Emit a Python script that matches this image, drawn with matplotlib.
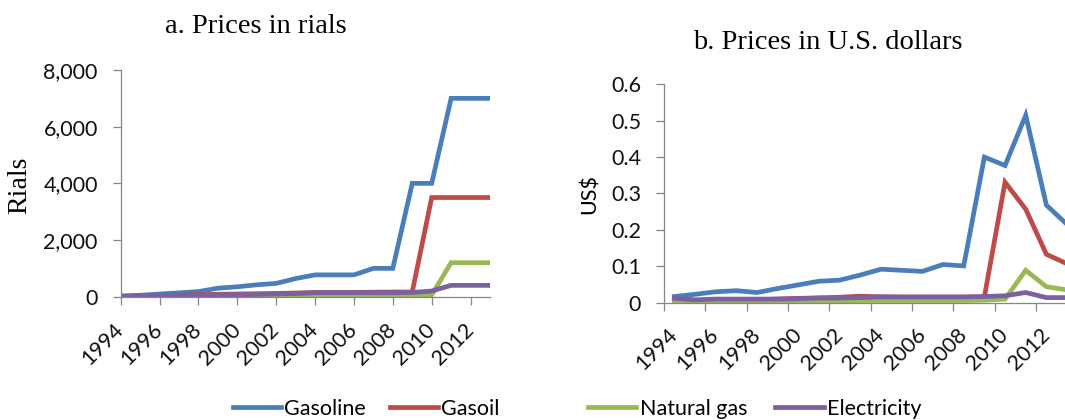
#!/usr/bin/env python3
"""
Energy carrier prices in Iran, 1994-2013: rials (a) and US dollars (b).
Writes out.png (1065x420).
"""
import matplotlib
matplotlib.use("Agg")
import matplotlib.pyplot as plt
from matplotlib.ticker import FuncFormatter

# ---- data -------------------------------------------------------------
years = list(range(1994, 2014))
tick_years = [str(y) for y in range(1994, 2013, 2)]

# a. prices in rials
gasoline_rial = [20, 50, 95, 135, 180, 300, 350, 420, 470, 640,
                 770, 770, 770, 1000, 1000, 4000, 4000, 7000, 7000, 7000]
gasoil_rial = [10, 20, 35, 50, 70, 85, 95, 105, 115, 130,
               150, 150, 150, 160, 165, 165, 3500, 3500, 3500, 3500]
natgas_rial = [5, 5, 8, 10, 10, 12, 15, 18, 20, 25,
               30, 35, 40, 45, 50, 55, 60, 1200, 1200, 1200]
elec_rial = [20, 25, 30, 40, 50, 60, 70, 80, 95, 110,
             140, 140, 140, 140, 140, 150, 200, 400, 400, 400]

# b. prices in US$
gasoline_usd = [0.017, 0.023, 0.030, 0.033, 0.028, 0.039, 0.049, 0.059, 0.062, 0.076,
                0.092, 0.089, 0.086, 0.105, 0.101, 0.400, 0.377, 0.515, 0.268, 0.215]
gasoil_usd = [0.005, 0.006, 0.007, 0.008, 0.008, 0.010, 0.012, 0.013, 0.015, 0.018,
              0.016, 0.015, 0.015, 0.015, 0.015, 0.016, 0.331, 0.257, 0.133, 0.107]
natgas_usd = [0.002, 0.002, 0.003, 0.003, 0.003, 0.004, 0.004, 0.005, 0.005, 0.006,
              0.006, 0.006, 0.006, 0.006, 0.006, 0.007, 0.010, 0.089, 0.044, 0.035]
elec_usd = [0.012, 0.008, 0.010, 0.010, 0.010, 0.010, 0.011, 0.013, 0.013, 0.014,
            0.016, 0.016, 0.016, 0.016, 0.016, 0.017, 0.019, 0.028, 0.014, 0.014]

series_names = ["Gasoline", "Gasoil", "Natural gas", "Electricity"]
colors = ["#4A7EBB", "#BE4B48", "#98B954", "#7D60A0"]

# ---- style ------------------------------------------------------------
W, H = 1065, 420
SANS = ["Lato", "DejaVu Sans"]
SERIF = ["Liberation Serif", "DejaVu Serif"]
AXIS_GRAY = "#868686"
TICK_FS = 15.5
TITLE_FS = 20.5
LW = 3.4

plt.rcParams["font.family"] = SANS


def px(x, y):
    """pixel (from top-left) -> figure fraction"""
    return x / W, 1 - y / H


def style_axes(ax):
    for side in ("top", "right"):
        ax.spines[side].set_visible(False)
    for side in ("left", "bottom"):
        ax.spines[side].set_color(AXIS_GRAY)
        ax.spines[side].set_linewidth(0.9)
    ax.tick_params(axis="both", which="both", direction="out", color=AXIS_GRAY,
                   width=0.9, labelsize=TICK_FS, labelcolor="#111111")
    ax.tick_params(axis="y", length=5.5, pad=11)
    ax.tick_params(axis="x", which="major", length=5.5)


def rotate_xlabels(labels):
    for lab in labels:
        lab.set_rotation(45)
        lab.set_ha("right")
        lab.set_va("center")
        lab.set_rotation_mode("anchor")


fig = plt.figure(figsize=(W / 100, H / 100), dpi=100)

# ---- a. rials ---------------------------------------------------------
ax1 = fig.add_axes([120.7 / W, 1 - 296.7 / H, 369.3 / W, 226.7 / H])
x = list(range(len(years)))
lines = []
for vals, name, c in zip([gasoline_rial, gasoil_rial, natgas_rial, elec_rial],
                         series_names, colors):
    ln, = ax1.plot(x, vals, color=c, linewidth=LW, label=name, solid_joinstyle="miter")
    lines.append(ln)
ax1.set_xlim(0, 19)
ax1.set_ylim(0, 8000)
ax1.set_yticks([0, 2000, 4000, 6000, 8000])
ax1.yaxis.set_major_formatter(FuncFormatter(lambda v, p: f"{v:,.0f}"))
ax1.set_xticks(range(0, 19, 2))
ax1.set_xticklabels(tick_years)
style_axes(ax1)
ax1.tick_params(axis="x", pad=16)
rotate_xlabels(ax1.get_xticklabels())

# ---- b. US$ (category axis, between tick marks; cropped at right) -----
ax2 = fig.add_axes([664 / W, 1 - 302.7 / H, 413.4 / W, 218.4 / H])
for vals, name, c in zip([gasoline_usd, gasoil_usd, natgas_usd, elec_usd],
                         series_names, colors):
    ax2.plot(x, vals, color=c, linewidth=LW, label=name, solid_joinstyle="miter")
ax2.set_xlim(-0.5, 19.5)
ax2.set_ylim(0, 0.6)
ax2.set_yticks([0, 0.1, 0.2, 0.3, 0.4, 0.5, 0.6])
ax2.yaxis.set_major_formatter(FuncFormatter(lambda v, p: "0" if v == 0 else f"{v:.1f}"))
# tick marks at category boundaries, labels at category centres
ax2.set_xticks([b - 0.5 for b in range(0, 21, 2)])
ax2.set_xticklabels([])
ax2.set_xticks(range(0, 19, 2), tick_years, minor=True)
style_axes(ax2)
ax2.tick_params(axis="x", which="minor", length=0, pad=21)
rotate_xlabels(ax2.get_xticklabels(minor=True))

# ---- titles / axis titles --------------------------------------------
fig.text(*px(256, 33), "a. Prices in rials", family=SERIF, fontsize=TITLE_FS,
         ha="center", va="baseline")
fig.text(*px(828, 49.3), "b. Prices in U.S. dollars", family=SERIF, fontsize=TITLE_FS,
         ha="center", va="baseline")
fig.text(*px(20, 185), "Rials", family=SERIF, fontsize=20, rotation=90,
         ha="center", va="center")
fig.text(*px(590, 194), "US$", fontsize=TICK_FS, rotation=90,
         ha="center", va="center")

# ---- legend (two groups, as in the source) ----------------------------
leg_kw = dict(frameon=False, ncol=2, fontsize=TICK_FS, loc="center left",
              handlelength=2.25, handletextpad=0.15, borderpad=0,
              borderaxespad=0)
fig.legend(lines[:2], series_names[:2], bbox_to_anchor=px(232.5, 409),
           columnspacing=1.1, **leg_kw)
fig.legend(lines[2:], series_names[2:], bbox_to_anchor=px(588, 409),
           columnspacing=1.3, **leg_kw)

fig.savefig("out.png", dpi=100)
plt.close(fig)
